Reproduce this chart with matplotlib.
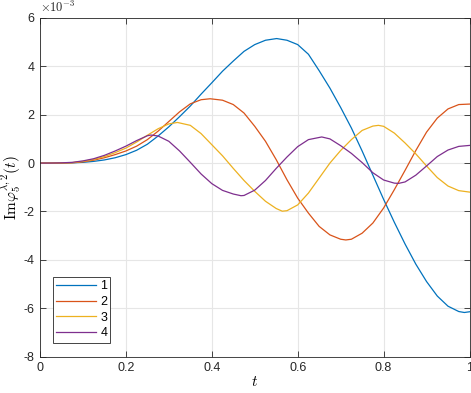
import numpy as np
import matplotlib
matplotlib.use("Agg")
import matplotlib.pyplot as plt

# Im phi values (units of 1e-3), each curve with its own t samples
t1 = [0, 0.025, 0.05, 0.075, 0.1, 0.125, 0.15, 0.175, 0.2, 0.225, 0.25, 0.275, 0.3, 0.325,
      0.35, 0.375, 0.4, 0.425, 0.45, 0.475, 0.5, 0.525, 0.551, 0.575, 0.6, 0.625, 0.65,
      0.675, 0.7, 0.725, 0.75, 0.775, 0.8, 0.825, 0.85, 0.875, 0.9, 0.925, 0.95, 0.975,
      0.988, 1.0]
curve1 = [0, 0, 0.0, 0.01, 0.03, 0.07, 0.13, 0.22, 0.35, 0.53, 0.78, 1.12, 1.5, 1.92,
          2.36, 2.85, 3.32, 3.8, 4.22, 4.62, 4.9, 5.08, 5.15, 5.08, 4.9, 4.5, 3.82,
          3.1, 2.3, 1.45, 0.5, -0.5, -1.5, -2.45, -3.35, -4.18, -4.9, -5.5, -5.92, -6.14,
          -6.18, -6.15]

t2 = [0, 0.025, 0.05, 0.075, 0.1, 0.125, 0.15, 0.175, 0.2, 0.225, 0.25, 0.275, 0.3, 0.325,
      0.35, 0.375, 0.396, 0.425, 0.45, 0.475, 0.5, 0.525, 0.55, 0.575, 0.6, 0.625, 0.65,
      0.675, 0.7, 0.712, 0.725, 0.75, 0.775, 0.8, 0.825, 0.85, 0.875, 0.9, 0.925, 0.95,
      0.975, 1.0]
curve2 = [0, 0, 0.0, 0.01, 0.05, 0.12, 0.22, 0.35, 0.5, 0.7, 0.97, 1.32, 1.72, 2.12,
          2.45, 2.62, 2.66, 2.6, 2.42, 2.07, 1.52, 0.9, 0.14, -0.69, -1.45, -2.07, -2.62,
          -2.97, -3.15, -3.18, -3.15, -2.9, -2.48, -1.86, -1.1, -0.3, 0.52, 1.28, 1.86, 2.24,
          2.42, 2.44]

t3 = [0, 0.025, 0.05, 0.075, 0.1, 0.125, 0.15, 0.175, 0.2, 0.225, 0.25, 0.275, 0.3, 0.32,
      0.35, 0.375, 0.4, 0.425, 0.45, 0.475, 0.5, 0.525, 0.55, 0.564, 0.575, 0.6, 0.625,
      0.65, 0.675, 0.7, 0.725, 0.75, 0.775, 0.788, 0.8, 0.825, 0.85, 0.875, 0.9, 0.925,
      0.95, 0.975, 1.0]
curve3 = [0, 0, 0.01, 0.02, 0.07, 0.15, 0.27, 0.43, 0.62, 0.87, 1.15, 1.42, 1.62, 1.68,
          1.56, 1.22, 0.76, 0.3, -0.22, -0.72, -1.17, -1.58, -1.88, -1.99, -1.97, -1.73,
          -1.24, -0.62, 0.0, 0.52, 0.97, 1.35, 1.53, 1.56, 1.52, 1.24, 0.83, 0.38, -0.12,
          -0.6, -0.95, -1.14, -1.2]

t4 = [0, 0.025, 0.05, 0.075, 0.1, 0.125, 0.15, 0.175, 0.2, 0.225, 0.25, 0.258, 0.275, 0.3,
      0.325, 0.35, 0.375, 0.4, 0.425, 0.45, 0.468, 0.475, 0.5, 0.525, 0.55, 0.575, 0.6,
      0.625, 0.656, 0.675, 0.7, 0.725, 0.75, 0.775, 0.8, 0.825, 0.835, 0.85, 0.875, 0.9,
      0.925, 0.95, 0.975, 1.0]
curve4 = [0, 0, 0.01, 0.03, 0.09, 0.18, 0.32, 0.5, 0.7, 0.93, 1.13, 1.16, 1.12, 0.9,
          0.5, 0.03, -0.45, -0.85, -1.13, -1.28, -1.35, -1.34, -1.12, -0.72, -0.22, 0.25,
          0.68, 0.97, 1.08, 1.0, 0.72, 0.4, 0.02, -0.4, -0.7, -0.83, -0.84, -0.78, -0.5,
          -0.12, 0.27, 0.54, 0.69, 0.73]

labels = ["1", "2", "3", "4"]
colors = ["#0072BD", "#D95319", "#EDB120", "#7E2F8E"]
yticks = [-8, -6, -4, -2, 0, 2, 4, 6]
xticks = [0, 0.2, 0.4, 0.6, 0.8, 1]
xticklabels = ["0", "0.2", "0.4", "0.6", "0.8", "1"]

plt.rcParams["font.family"] = ["Liberation Sans", "DejaVu Sans"]
plt.rcParams["mathtext.fontset"] = "cm"

fig = plt.figure(figsize=(4.71, 3.93), dpi=100)
ax = fig.add_axes([40 / 471, 36.5 / 393, 429.5 / 471, 338.5 / 393])

for ts, ys, lab, c in zip([t1, t2, t3, t4], [curve1, curve2, curve3, curve4], labels, colors):
    ax.plot(ts, ys, color=c, lw=0.9, label=lab, solid_joinstyle="round")

ax.set_xlim(0, 1)
ax.set_ylim(-8, 6)
ax.set_xticks(xticks)
ax.set_xticklabels(xticklabels)
ax.set_yticks(yticks)
ax.set_yticklabels([str(v) for v in yticks])
ax.tick_params(direction="in", length=4, width=0.6, colors="#262626", labelsize=9,
               top=True, right=True, pad=4)
ax.grid(True, color="#e6e6e6", lw=0.8)
ax.set_axisbelow(True)
for s in ax.spines.values():
    s.set_color("#262626")
    s.set_linewidth(0.6)

ax.text(0.0, 1.008, r"$\times10^{-3}$", transform=ax.transAxes, fontsize=9,
        family="DejaVu Sans", ha="left", va="bottom", color="#262626")
ax.set_xlabel(r"$t$", fontsize=11, labelpad=1)
ax.set_ylabel(r"$\mathrm{Im}\varphi_5^{\lambda,2}(t)$", fontsize=11, labelpad=0)

leg = ax.legend(loc="lower left", bbox_to_anchor=(0.031, 0.041), borderaxespad=0,
                fontsize=9, handlelength=3.2, handletextpad=0.3, labelspacing=0.3,
                borderpad=0.25, fancybox=False, framealpha=1)
leg.get_frame().set_edgecolor("#262626")
leg.get_frame().set_linewidth(0.6)

fig.savefig("out.png", dpi=100)
